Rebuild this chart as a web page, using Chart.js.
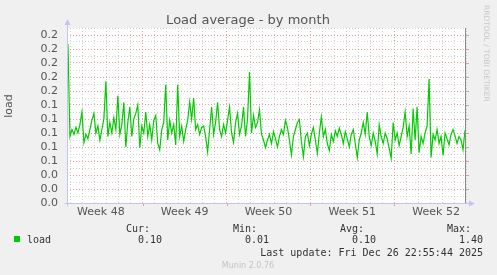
<!DOCTYPE html>
<html>
<head>
<meta charset="utf-8">
<title>Load average - by month</title>
<style>
  html, body { margin: 0; padding: 0; background: #f0f0f0; }
  canvas { display: block; }
</style>
<script src="https://cdn.jsdelivr.net/npm/chart.js@4.4.1/dist/chart.umd.min.js"></script>
</head>
<body>
<canvas id="loadChart" width="497" height="275"></canvas>
<script>
// Munin "Load average - by month" graph redrawn with Chart.js

// x axis is measured in days from the week 49 boundary
const weekLabels = ["Week 48", "Week 49", "Week 50", "Week 51", "Week 52"];
const weekCenters = [-3.5, 3.5, 10.5, 17.5, 24.5];
const xMin = -6.33;
const xMax = 27;

// one sample every 4 hours
const firstSample = -6.25;
const sampleStep = 1 / 6;

const loadValues = [
    0.227, 0.095, 0.105, 0.098, 0.108, 0.100, 0.112, 0.130, 0.086, 0.098,
    0.092, 0.105, 0.118, 0.128, 0.100, 0.110, 0.090, 0.105, 0.120, 0.174,
    0.095, 0.115, 0.100, 0.122, 0.105, 0.153, 0.098, 0.112, 0.144, 0.080,
    0.115, 0.137, 0.095, 0.120, 0.128, 0.140, 0.079, 0.110, 0.100, 0.130,
    0.095, 0.112, 0.090, 0.118, 0.125, 0.085, 0.076, 0.105, 0.115, 0.169,
    0.090, 0.118, 0.100, 0.112, 0.083, 0.169, 0.095, 0.110, 0.088, 0.105,
    0.118, 0.144, 0.120, 0.150, 0.105, 0.112, 0.098, 0.108, 0.110, 0.095,
    0.073, 0.105, 0.137, 0.098, 0.115, 0.144, 0.105, 0.095, 0.112, 0.100,
    0.118, 0.137, 0.100, 0.087, 0.115, 0.128, 0.098, 0.110, 0.137, 0.095,
    0.120, 0.187, 0.100, 0.125, 0.108, 0.115, 0.133, 0.098, 0.090, 0.079,
    0.090, 0.098, 0.085, 0.102, 0.092, 0.080, 0.095, 0.105, 0.098, 0.118,
    0.108, 0.090, 0.069, 0.095, 0.105, 0.115, 0.119, 0.088, 0.066, 0.095,
    0.100, 0.082, 0.098, 0.108, 0.090, 0.071, 0.100, 0.123, 0.095, 0.105,
    0.085, 0.075, 0.098, 0.088, 0.103, 0.095, 0.107, 0.098, 0.085, 0.102,
    0.092, 0.080, 0.098, 0.105, 0.085, 0.065, 0.090, 0.100, 0.115, 0.098,
    0.130, 0.095, 0.082, 0.100, 0.088, 0.070, 0.112, 0.095, 0.085, 0.100,
    0.092, 0.078, 0.064, 0.115, 0.090, 0.100, 0.082, 0.095, 0.108, 0.130,
    0.095, 0.110, 0.070, 0.135, 0.090, 0.137, 0.072, 0.095, 0.085, 0.100,
    0.110, 0.177, 0.065, 0.098, 0.090, 0.105, 0.085, 0.095, 0.068, 0.100,
    0.092, 0.083, 0.098, 0.105, 0.096, 0.085, 0.095, 0.090, 0.076, 0.104
];

// y axis
const yMax = 0.25;
const yStep = 0.01;

// legend rows
const seriesName = "load";
const statNames = ["Cur:", "Min:", "Avg:", "Max:"];
const statValues = ["0.10", "0.01", "0.10", "1.40"];
const lastUpdate = "Last update: Fri Dec 26 22:55:44 2025";

const LINE_GREEN = '#00cc00';
const GRID_MAJOR = 'rgba(222, 130, 130, 0.75)';
const GRID_MINOR = 'rgba(190, 190, 190, 0.7)';
const AXIS_BLUE = '#c4c4f4';
const TEXT_GRAY = '#555555';

function buildXTicks() {
    const ticks = [];
    for (let d = -6; d <= 27; d++) ticks.push({ value: d });
    weekCenters.forEach(c => ticks.push({ value: c }));
    return ticks.sort((a, b) => a.value - b.value);
}

function weekLabelFor(value) {
    const idx = weekCenters.indexOf(value);
    return idx >= 0 ? weekLabels[idx] : '';
}

// background, axes, texts and legend
const muninDecor = {
    id: 'muninDecor',
    beforeDraw(chart) {
        const { ctx, chartArea: a } = chart;
        ctx.save();
        ctx.fillStyle = '#f0f0f0';
        ctx.fillRect(0, 0, chart.width, chart.height);
        ctx.fillStyle = '#ffffff';
        ctx.fillRect(a.left, a.top, a.right - a.left, a.bottom - a.top);
        ctx.restore();
    },
    afterDraw(chart) {
        const { ctx, chartArea: a } = chart;
        const xs = chart.scales.x;
        const ys = chart.scales.y;
        ctx.save();

        // title
        ctx.fillStyle = TEXT_GRAY;
        ctx.font = '13px "DejaVu Sans"';
        ctx.textAlign = 'center';
        ctx.textBaseline = 'alphabetic';
        ctx.fillText('Load average - by month', 248, 24);

        // vertical axis title
        ctx.save();
        ctx.translate(12, 106);
        ctx.rotate(-Math.PI / 2);
        ctx.font = '11px "DejaVu Sans"';
        ctx.textAlign = 'center';
        ctx.fillText('load', 0, 0);
        ctx.restore();

        // rrdtool watermark
        ctx.save();
        ctx.translate(484, 5);
        ctx.rotate(Math.PI / 2);
        ctx.font = '7.5px "DejaVu Sans"';
        ctx.fillStyle = '#c8c8c8';
        ctx.textAlign = 'left';
        ctx.fillText('RRDTOOL / TOBI OETIKER', 0, 0);
        ctx.restore();

        // small red ticks outside the plot
        ctx.strokeStyle = GRID_MAJOR;
        ctx.lineWidth = 1;
        ctx.beginPath();
        for (let v = 0.02; v < yMax; v += 0.02) {
            const py = Math.round(ys.getPixelForValue(v)) + 0.5;
            ctx.moveTo(a.right, py);
            ctx.lineTo(a.right + 3, py);
        }
        [0, 7, 14, 21].forEach(d => {
            const px = Math.round(xs.getPixelForValue(d)) + 0.5;
            ctx.moveTo(px, a.bottom);
            ctx.lineTo(px, a.bottom + 3);
        });
        ctx.stroke();

        // right edge line
        ctx.strokeStyle = '#8a8a8a';
        ctx.beginPath();
        ctx.moveTo(a.right - 0.5, a.top);
        ctx.lineTo(a.right - 0.5, a.bottom);
        ctx.stroke();

        // axes with arrows
        const x0 = a.left + 0.5;
        const y0 = Math.round(a.bottom) + 0.5;
        ctx.strokeStyle = AXIS_BLUE;
        ctx.fillStyle = AXIS_BLUE;
        ctx.beginPath();
        ctx.moveTo(x0, y0 + 3);
        ctx.lineTo(x0, a.top - 4);
        ctx.moveTo(x0 - 3, y0);
        ctx.lineTo(a.right + 4, y0);
        ctx.stroke();
        ctx.beginPath();
        ctx.moveTo(x0 - 3, a.top - 3);
        ctx.lineTo(x0 + 3, a.top - 3);
        ctx.lineTo(x0, a.top - 9);
        ctx.closePath();
        ctx.fill();
        ctx.beginPath();
        ctx.moveTo(a.right + 3, y0 - 3);
        ctx.lineTo(a.right + 3, y0 + 3);
        ctx.lineTo(a.right + 9, y0);
        ctx.closePath();
        ctx.fill();

        // legend
        ctx.fillStyle = LINE_GREEN;
        ctx.fillRect(14, 236, 6, 6);
        ctx.font = '10px "DejaVu Sans Mono"';
        ctx.fillStyle = '#333333';
        ctx.textAlign = 'left';
        ctx.fillText(seriesName, 27, 243);

        const nameRight = [150, 257, 364, 471];
        const valueRight = [162, 269, 376, 483];
        ctx.textAlign = 'right';
        statNames.forEach((n, i) => ctx.fillText(n, nameRight[i], 232));
        statValues.forEach((v, i) => ctx.fillText(v, valueRight[i], 243));
        ctx.fillText(lastUpdate, 483, 256);

        // version footer
        ctx.font = '8px "DejaVu Sans"';
        ctx.fillStyle = '#c4c4c4';
        ctx.textAlign = 'center';
        ctx.fillText('Munin 2.0.76', 248, 268);

        ctx.restore();
    }
};

function createLoadChart() {
    const canvas = document.getElementById('loadChart');
    const points = loadValues.map((v, i) => ({ x: firstSample + i * sampleStep, y: v }));

    new Chart(canvas, {
        type: 'line',
        data: {
            datasets: [{
                label: seriesName,
                data: points,
                borderColor: LINE_GREEN,
                borderWidth: 1.2,
                pointRadius: 0,
                tension: 0,
                fill: false
            }]
        },
        options: {
            responsive: false,
            animation: false,
            devicePixelRatio: 1,
            layout: { padding: { top: 28, right: 31, bottom: 0, left: 0 } },
            plugins: {
                legend: { display: false },
                title: { display: false },
                tooltip: { enabled: false }
            },
            scales: {
                x: {
                    type: 'linear',
                    min: xMin,
                    max: xMax,
                    afterBuildTicks: scale => { scale.ticks = buildXTicks(); },
                    afterFit: scale => { scale.height = 72; },
                    border: { display: false, dash: [1, 2] },
                    grid: {
                        drawTicks: false,
                        lineWidth: 1,
                        color: c => {
                            const v = c.tick ? c.tick.value : 0;
                            if (!Number.isInteger(v)) return 'rgba(0,0,0,0)';
                            return v % 7 === 0 ? GRID_MAJOR : GRID_MINOR;
                        }
                    },
                    ticks: {
                        autoSkip: false,
                        maxRotation: 0,
                        padding: 3,
                        color: TEXT_GRAY,
                        font: { family: 'DejaVu Sans', size: 11 },
                        callback: value => weekLabelFor(value)
                    }
                },
                y: {
                    min: 0,
                    max: yMax,
                    afterFit: scale => { scale.width = 67; },
                    border: { display: false, dash: [1, 2] },
                    grid: {
                        drawTicks: false,
                        lineWidth: 1,
                        color: c => {
                            const n = Math.round(c.tick.value * 100);
                            return n % 2 === 0 ? GRID_MAJOR : GRID_MINOR;
                        }
                    },
                    ticks: {
                        stepSize: yStep,
                        autoSkip: false,
                        padding: 9,
                        color: TEXT_GRAY,
                        font: { family: 'DejaVu Sans', size: 11 },
                        callback: value => {
                            const n = Math.round(value * 100);
                            return n % 2 === 0 && n < 25 ? value.toFixed(1) : '';
                        }
                    }
                }
            }
        },
        plugins: [muninDecor]
    });
}

document.addEventListener('DOMContentLoaded', createLoadChart);
</script>
</body>
</html>
